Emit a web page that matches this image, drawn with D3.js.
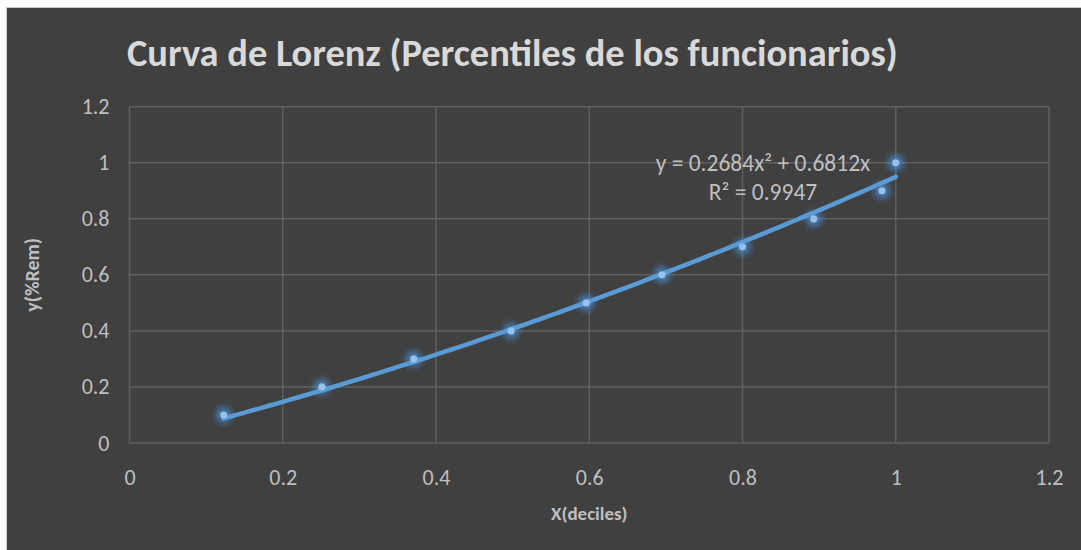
<!DOCTYPE html>
<html>
<head>
<meta charset="utf-8">
<script src="https://cdn.jsdelivr.net/npm/d3@7"></script>
<style>
  html, body { margin: 0; padding: 0; background: #ffffff; }
  svg { display: block; }
  text { font-family: Carlito, Calibri, Lato, "Open Sans", sans-serif; }
</style>
</head>
<body>
<svg id="chart" width="1081" height="550"></svg>
<script>
// Lorenz curve data: cumulative share of staff (x) vs cumulative share of pay (y)
const deciles = [0.123, 0.251, 0.371, 0.498, 0.596, 0.695, 0.800, 0.893, 0.982, 1.0];
const remShare = [0.1, 0.2, 0.3, 0.4, 0.5, 0.6, 0.7, 0.8, 0.9, 1.0];
// Polynomial (order 2, zero intercept) trendline coefficients and fit quality
const trendCoef = [0.2684, 0.6812];
const trendR2 = 0.9947;
const xTicks = [0, 0.2, 0.4, 0.6, 0.8, 1, 1.2];
const yTicks = [0, 0.2, 0.4, 0.6, 0.8, 1, 1.2];
const titleText = "Curva de Lorenz (Percentiles de los funcionarios)";
const xTitle = "X(deciles)";
const yTitle = "y(%Rem)";

const svg = d3.select("#chart");
const W = 1081, H = 550;

// chart panel
svg.append("rect").attr("x", 6.5).attr("y", 7.5).attr("width", W).attr("height", H)
  .attr("fill", "#404040").attr("stroke", "#c8c8c8").attr("stroke-width", 1);

const plot = { left: 129.5, right: 1049, top: 106.7, bottom: 443 };
const x = d3.scaleLinear().domain([0, 1.2]).range([plot.left, plot.right]);
const y = d3.scaleLinear().domain([0, 1.2]).range([plot.bottom, plot.top]);

const gridColor = "#5f5f5f";

// gridlines
svg.append("g").selectAll("line").data(yTicks).join("line")
  .attr("x1", plot.left).attr("x2", plot.right)
  .attr("y1", d => y(d)).attr("y2", d => y(d))
  .attr("stroke", gridColor).attr("stroke-width", 1.5);
svg.append("g").selectAll("line").data(xTicks).join("line")
  .attr("y1", plot.top).attr("y2", plot.bottom)
  .attr("x1", d => x(d)).attr("x2", d => x(d))
  .attr("stroke", gridColor).attr("stroke-width", 1.5);

// axes (labels only; lines come from the grid)
const fmt = d => String(+d.toFixed(1));
const xAxis = svg.append("g").attr("transform", `translate(0,${plot.bottom})`)
  .call(d3.axisBottom(x).tickValues(xTicks).tickFormat(fmt).tickSize(0).tickPadding(26));
const yAxis = svg.append("g").attr("transform", `translate(${plot.left},0)`)
  .call(d3.axisLeft(y).tickValues(yTicks).tickFormat(fmt).tickSize(0).tickPadding(20));
[xAxis, yAxis].forEach(g => {
  g.select(".domain").remove();
  g.selectAll("text").attr("fill", "#bfbfbf").style("font-size", "22px")
    .style("font-family", "Carlito, Calibri, Lato, sans-serif");
});

// glow filter for markers
const defs = svg.append("defs");
defs.append("filter").attr("id", "glow").attr("x", "-100%").attr("y", "-100%")
  .attr("width", "300%").attr("height", "300%")
  .append("feGaussianBlur").attr("stdDeviation", 3);

const pts = deciles.map((d, i) => ({ x: d, y: remShare[i] }));

// marker halos
svg.append("g").selectAll("circle").data(pts).join("circle")
  .attr("cx", d => x(d.x)).attr("cy", d => y(d.y)).attr("r", 8)
  .attr("fill", "#4a90d9").attr("opacity", 0.75).attr("filter", "url(#glow)");

// trendline y = a x^2 + b x over the data range
const xmin = d3.min(deciles), xmax = d3.max(deciles);
const trendPts = d3.range(0, 101).map(i => {
  const t = xmin + (xmax - xmin) * i / 100;
  return [t, trendCoef[0] * t * t + trendCoef[1] * t];
});
svg.append("path").datum(trendPts)
  .attr("d", d3.line().x(d => x(d[0])).y(d => y(d[1])))
  .attr("fill", "none").attr("stroke", "#5b9bd5").attr("stroke-width", 4.5)
  .attr("stroke-linecap", "round");

// markers
svg.append("g").selectAll("circle").data(pts).join("circle")
  .attr("cx", d => x(d.x)).attr("cy", d => y(d.y)).attr("r", 3.6)
  .attr("fill", "#9cc8f0").attr("opacity", 0.9);

// trendline equation
const eq = svg.append("text").attr("fill", "#bfbfbf").attr("text-anchor", "middle")
  .style("font-size", "23.5px");
eq.append("tspan").attr("x", 763).attr("y", 171)
  .text(`y = ${trendCoef[0]}x² + ${trendCoef[1]}x`);
eq.append("tspan").attr("x", 763).attr("y", 200)
  .text(`R² = ${trendR2}`);

// title, sized to its span
const title = svg.append("text").attr("x", 127).attr("y", 66)
  .attr("fill", "#d9d9d9").style("font-weight", "bold").style("font-size", "34px")
  .text(titleText);
const tw = title.node().getComputedTextLength();
title.style("font-size", (34 * 771 / tw).toFixed(2) + "px");

// axis titles
svg.append("text").attr("x", (plot.left + plot.right) / 2).attr("y", 520)
  .attr("text-anchor", "middle").attr("fill", "#bfbfbf")
  .style("font-weight", "bold").style("font-size", "19px").text(xTitle);
svg.append("text")
  .attr("transform", `translate(39,${(plot.top + plot.bottom) / 2}) rotate(-90)`)
  .attr("text-anchor", "middle").attr("fill", "#bfbfbf")
  .style("font-weight", "bold").style("font-size", "20px").text(yTitle);
</script>
</body>
</html>
